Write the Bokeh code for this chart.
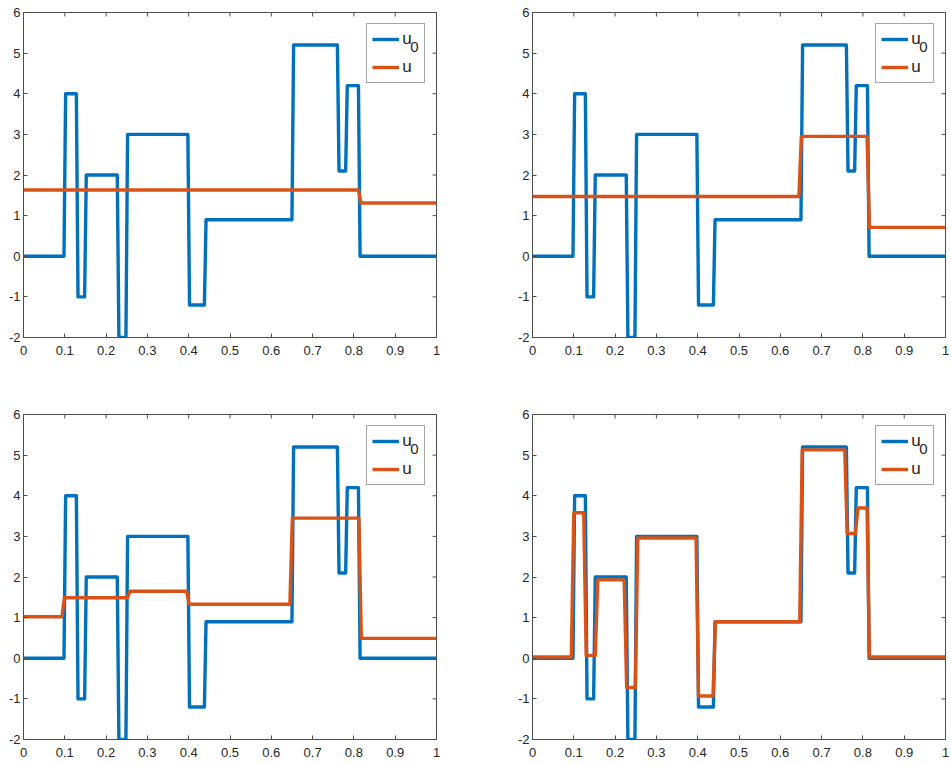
from bokeh.plotting import figure
from bokeh.models import Legend, LegendItem, LinearAxis, FixedTicker, Label, Range1d
from bokeh.layouts import column, row
from bokeh.embed import file_html
from bokeh.resources import INLINE

# ---- tick data ----
x_ticks = [0, 0.1, 0.2, 0.3, 0.4, 0.5, 0.6, 0.7, 0.8, 0.9, 1]
x_tick_labels = ["0", "0.1", "0.2", "0.3", "0.4", "0.5", "0.6", "0.7", "0.8", "0.9", "1"]
y_ticks = [-2, -1, 0, 1, 2, 3, 4, 5, 6]
y_tick_labels = ["-2", "-1", "0", "1", "2", "3", "4", "5", "6"]

# ---- initial profile u0 (piecewise constant) ----
u0_breaks = [0.1, 0.13, 0.15, 0.229, 0.25, 0.4, 0.44, 0.652, 0.762, 0.782, 0.813]
u0_levels = [0, 4, -1, 2, -2, 3, -1.2, 0.9, 5.2, 2.1, 4.2, 0]

# ---- reconstructions u for the four panels ----
u_a_breaks = [0.814]
u_a_levels = [1.63, 1.31]

u_b_breaks = [0.648, 0.813]
u_b_levels = [1.47, 2.95, 0.71]

u_c_breaks = [0.096, 0.255, 0.398, 0.648, 0.815]
u_c_levels = [1.02, 1.49, 1.65, 1.33, 3.45, 0.49]

u_d_breaks = [0.097, 0.127, 0.155, 0.225, 0.252, 0.399, 0.44, 0.65, 0.759, 0.785, 0.813]
u_d_levels = [0.03, 3.58, 0.07, 1.93, -0.72, 2.96, -0.93, 0.9, 5.13, 3.07, 3.7, 0.03]

BLUE = "#0072BD"
ORANGE = "#D95319"
AX = "#4d4d4d"
TXT = "#262626"
FONT = "Liberation Sans"
LW = 3.4
TICK_PX = 4


def step_path(breaks, levels, ramp):
    xs, ys = [0.0], [levels[0]]
    for b, a, c in zip(breaks, levels[:-1], levels[1:]):
        xs += [b - ramp / 2, b + ramp / 2]
        ys += [a, c]
    xs.append(1.0)
    ys.append(levels[-1])
    return xs, ys


def make_panel(u_breaks, u_levels, width, height, bl, br, bt, bb):
    p = figure(width=width, height=height, x_range=Range1d(0, 1), y_range=Range1d(-2, 6),
               output_backend="svg", toolbar_location=None,
               x_axis_location=None, y_axis_location=None,
               min_border_left=bl, min_border_right=br, min_border_top=bt, min_border_bottom=bb)
    p.xgrid.visible = False
    p.ygrid.visible = False
    p.outline_line_color = AX
    p.background_fill_color = "white"
    p.border_fill_color = "white"

    def axis(ticks, labels, standoff):
        return LinearAxis(ticker=FixedTicker(ticks=ticks),
                          major_label_overrides=dict(zip(ticks, labels)),
                          major_tick_in=TICK_PX, major_tick_out=0,
                          minor_tick_line_color=None,
                          axis_line_color=AX, major_tick_line_color=AX,
                          major_label_standoff=standoff,
                          major_label_text_font=FONT,
                          major_label_text_color=TXT,
                          major_label_text_font_size="13px")

    p.add_layout(axis(y_ticks, y_tick_labels, 3), "left")
    p.add_layout(axis(x_ticks, x_tick_labels, 8), "below")

    frame_w = width - bl - br
    frame_h = height - bt - bb
    # inward ticks on the top and right edges of the box
    dy = TICK_PX * 8.0 / frame_h
    dx = TICK_PX * 1.0 / frame_w
    p.segment(x0=x_ticks, y0=[6] * len(x_ticks), x1=x_ticks, y1=[6 - dy] * len(x_ticks),
              line_color=AX, line_width=1)
    p.segment(x0=[1] * len(y_ticks), y0=y_ticks, x1=[1 - dx] * len(y_ticks), y1=y_ticks,
              line_color=AX, line_width=1)

    x0, y0 = step_path(u0_breaks, u0_levels, 0.004)
    x1, y1 = step_path(u_breaks, u_levels, 0.006)
    r0 = p.line(x0, y0, line_color=BLUE, line_width=LW, line_join="round")
    r1 = p.line(x1, y1, line_color=ORANGE, line_width=LW, line_join="round")

    leg_h = 58
    leg_w = 57
    lx = frame_w - 12.7 - leg_w
    ly = frame_h - 12.7 - leg_h
    # subscript "0" of the first legend entry (placed via data coordinates)
    sx = lx + 43.5
    sy = ly + leg_h - 21.5
    p.add_layout(Label(x=sx / frame_w, y=-2 + sy / frame_h * 8.0,
                       text="0", text_font=FONT, text_font_size="15px",
                       text_color=TXT, text_baseline="alphabetic"))
    leg = Legend(items=[LegendItem(label="u", renderers=[r0]),
                        LegendItem(label="u", renderers=[r1])],
                 location=(lx, ly), padding=5, spacing=8, margin=0,
                 glyph_width=27, glyph_height=20, label_standoff=3,
                 label_width=17, label_height=20,
                 label_text_font=FONT, label_text_font_size="17px",
                 label_text_color=TXT,
                 border_line_color=AX, border_line_width=1,
                 background_fill_alpha=0)
    p.add_layout(leg)
    return p


p1 = make_panel(u_a_breaks, u_a_levels, 509, 367, 23, 73, 12, 30)
p2 = make_panel(u_b_breaks, u_b_levels, 441, 367, 23, 5, 12, 30)
p3 = make_panel(u_c_breaks, u_c_levels, 509, 396, 23, 73, 47, 24)
p4 = make_panel(u_d_breaks, u_d_levels, 441, 396, 23, 5, 47, 24)

layout = column(row(p1, p2), row(p3, p4))
open("out.html", "w").write(file_html(layout, INLINE))
